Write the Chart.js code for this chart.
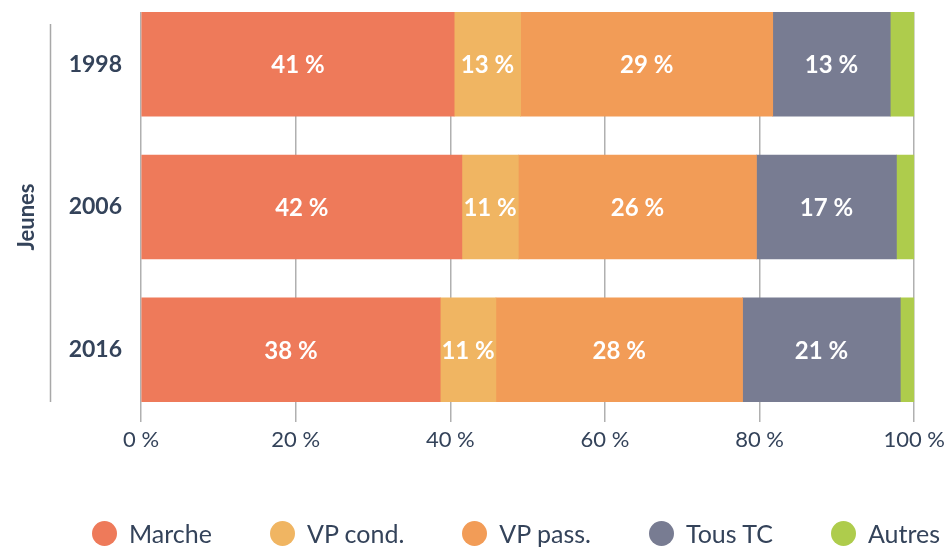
<!DOCTYPE html>
<html lang="fr">
<head>
<meta charset="utf-8">
<script src="https://cdn.jsdelivr.net/npm/chart.js@4"></script>
<style>
    body { margin: 0; background: #fff; }
    #wrap { position: relative; width: 950px; height: 547px; overflow: hidden; }
    #legend { position: absolute; left: 92px; top: 520px; height: 26px; width: 900px; display: flex; align-items: center;
        font-family: Lato, sans-serif; font-size: 25px; color: #34435a; white-space: nowrap; }
    #legend .item { display: flex; align-items: center; margin-right: 58px; flex-shrink: 0; }
    #legend .dot { width: 25px; height: 25px; border-radius: 50%; margin-right: 12px; flex-shrink: 0; }
</style>
</head>
<body>
<div id="wrap">
    <canvas id="barChart"></canvas>
    <div id="legend"></div>
</div>
<script>
// Values (bar widths in %)
const years = ['1998', '2006', '2016'];
const marche = [40.5, 41.5, 38.7];
const vpCond = [8.6, 7.3, 7.2];
const vpPass = [32.6, 30.8, 31.9];
const tousTC = [15.2, 18.1, 20.4];
const autres = [3.1, 2.3, 1.8];

// Printed labels inside the bars
const marcheText = ['41 %', '42 %', '38 %'];
const vpCondText = ['13 %', '11 %', '11 %'];
const vpPassText = ['29 %', '26 %', '28 %'];
const tousTCText = ['13 %', '17 %', '21 %'];

const xTicks = [0, 20, 40, 60, 80, 100];
const groupLabel = 'Jeunes';

const textColor = '#34435a';

const series = [
    {label: 'Marche', data: marche, text: marcheText, color: '#ee7a5a'},
    {label: 'VP cond.', data: vpCond, text: vpCondText, color: '#f0b562'},
    {label: 'VP pass.', data: vpPass, text: vpPassText, color: '#f29c57'},
    {label: 'Tous TC', data: tousTC, text: tousTCText, color: '#787c92'},
    {label: 'Autres', data: autres, text: null, color: '#aecc4c'}
];

// labels inside the bars + group label on the left
const barLabels = {
    id: 'barLabels',
    afterDatasetsDraw(chart) {
        const ctx = chart.ctx;
        ctx.save();
        ctx.fillStyle = '#ffffff';
        ctx.font = 'bold 24px Lato, sans-serif';
        ctx.textAlign = 'center';
        ctx.textBaseline = 'middle';
        chart.data.datasets.forEach((ds, d) => {
            if (!series[d].text) return;
            chart.getDatasetMeta(d).data.forEach((bar, i) => {
                const p = bar.getProps(['x', 'base', 'y'], true);
                ctx.fillText(series[d].text[i], (p.x + p.base) / 2, p.y + 1);
            });
        });
        ctx.restore();
    },
    afterDraw(chart) {
        const ctx = chart.ctx;
        const area = chart.chartArea;
        ctx.save();
        ctx.strokeStyle = '#a8a8a8';
        ctx.lineWidth = 1.5;
        ctx.beginPath();
        ctx.moveTo(50.5, area.top + 12);
        ctx.lineTo(50.5, area.bottom);
        ctx.stroke();
        ctx.translate(27, 217);
        ctx.rotate(-Math.PI / 2);
        ctx.fillStyle = textColor;
        ctx.font = 'bold 22px Lato, sans-serif';
        ctx.textAlign = 'center';
        ctx.textBaseline = 'middle';
        ctx.fillText(groupLabel, 0, 0);
        ctx.restore();
    }
};

let ctxBar = document.getElementById('barChart').getContext('2d');

let barChart = new Chart(ctxBar, {
    type: 'bar',
    data: {
        datasets: series.map(s => ({
            label: s.label,
            data: s.data.map((v, i) => ({x: v, y: i})),
            backgroundColor: s.color,
            borderWidth: 0,
            barThickness: 104
        }))
    },
    options: {
        indexAxis: 'y',
        responsive: true,
        maintainAspectRatio: false,
        animation: false,
        layout: {padding: {top: 12, right: 34}},
        plugins: {legend: {display: false}, tooltip: {enabled: false}},
        scales: {
            x: {
                stacked: true,
                min: 0,
                max: 100,
                afterBuildTicks: scale => { scale.ticks = xTicks.map(v => ({value: v})); },
                afterFit: scale => { scale.height = 145; },
                border: {display: false},
                grid: {color: '#b0b0b0', lineWidth: 1.5, tickLength: 20},
                ticks: {
                    color: textColor,
                    font: {family: 'Lato, sans-serif', size: 22},
                    padding: 5,
                    maxRotation: 0,
                    callback: v => v + ' %'
                }
            },
            y: {
                type: 'linear',
                stacked: true,
                reverse: true,
                offset: false,
                beginAtZero: false,
                grace: 0,
                min: -0.365,
                max: 2.365,
                afterBuildTicks: scale => { scale.ticks = years.map((y, i) => ({value: i})); },
                afterFit: scale => {
                    scale.width = 141;
                    scale.paddingTop = 0;
                    scale.paddingBottom = 0;
                },
                border: {display: false},
                grid: {display: false, drawTicks: false, offset: false},
                ticks: {
                    color: textColor,
                    font: {family: 'Lato, sans-serif', size: 23, weight: 'bold'},
                    padding: 19,
                    callback: v => years[v]
                }
            }
        }
    },
    plugins: [barLabels]
});

// legend under the chart
const legendEl = document.getElementById('legend');
series.forEach(s => {
    const item = document.createElement('div');
    item.className = 'item';
    const dot = document.createElement('span');
    dot.className = 'dot';
    dot.style.background = s.color;
    const txt = document.createElement('span');
    txt.textContent = s.label;
    item.appendChild(dot);
    item.appendChild(txt);
    legendEl.appendChild(item);
});
</script>
</body>
</html>
